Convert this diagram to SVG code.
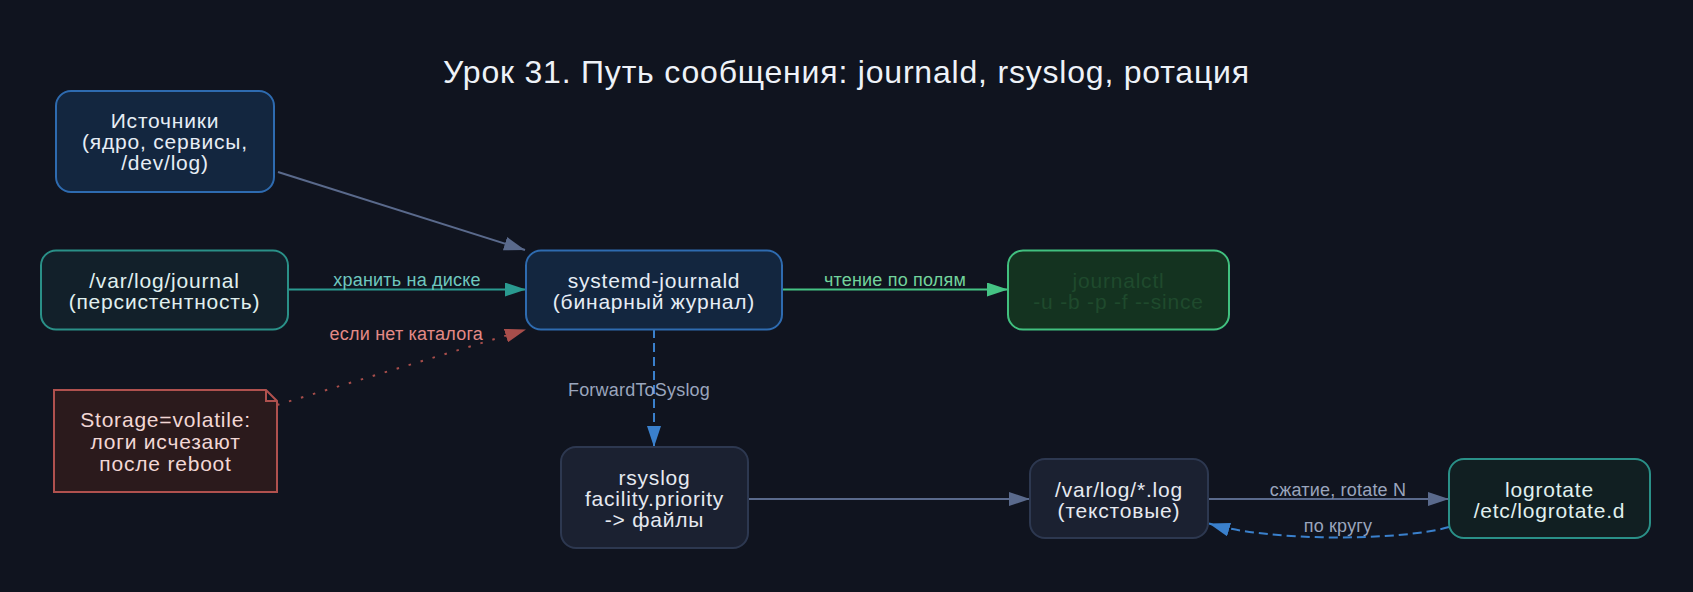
<svg xmlns="http://www.w3.org/2000/svg" width="1693" height="592" viewBox="0 0 1693 592">
<defs>
<style>
text{font-family:"Liberation Sans",Arial,sans-serif;}
.title{font-size:32px;fill:#eef2f8;text-anchor:middle;letter-spacing:0.8px;}
.nt{font-size:21px;text-anchor:middle;letter-spacing:0.8px;}
.el{font-size:18px;text-anchor:middle;letter-spacing:0.2px;}
.blue rect{fill:#13263f;stroke:#2e6bb0;stroke-width:2;}
.blue text{fill:#e6edf5;}
.teal rect{fill:#12202a;stroke:#2a9088;stroke-width:2;}
.teal text{fill:#e0f0ef;}
.green rect{fill:#143320;stroke:#41c07f;stroke-width:2;}
.green text{fill:#1f4a2d;}
.gray rect{fill:#1b2131;stroke:#2d3850;stroke-width:2;}
.gray text{fill:#e6e9f0;}
.note path{fill:#2b1a1c;stroke:#b0514e;stroke-width:2;}
.note text{fill:#f2d7d5;}
.e{fill:none;stroke-width:2;}
</style>
<marker id="aGray" markerUnits="userSpaceOnUse" markerWidth="22" markerHeight="14" refX="21" refY="7" orient="auto"><path d="M0,0 L21,7 L0,14 z" fill="#5a6a8c"/></marker>
<marker id="aTeal" markerUnits="userSpaceOnUse" markerWidth="22" markerHeight="14" refX="21" refY="7" orient="auto"><path d="M0,0 L21,7 L0,14 z" fill="#2a9a90"/></marker>
<marker id="aGreen" markerUnits="userSpaceOnUse" markerWidth="22" markerHeight="14" refX="21" refY="7" orient="auto"><path d="M0,0 L21,7 L0,14 z" fill="#45c384"/></marker>
<marker id="aBlue" markerUnits="userSpaceOnUse" markerWidth="22" markerHeight="14" refX="21" refY="7" orient="auto"><path d="M0,0 L21,7 L0,14 z" fill="#3a80cc"/></marker>
<marker id="aRed" markerUnits="userSpaceOnUse" markerWidth="22" markerHeight="14" refX="21" refY="7" orient="auto"><path d="M0,0 L21,7 L0,14 z" fill="#a84e4b"/></marker>
</defs>
<rect x="0" y="0" width="1693" height="592" fill="#10141f"/>
<text class="title" x="846.5" y="83">Урок 31. Путь сообщения: journald, rsyslog, ротация</text>

<g id="connectors">
<path class="e" d="M278,172 L525,250" stroke="#5a6a8c" marker-end="url(#aGray)"/>
<path class="e" d="M288,289.5 L526,289.5" stroke="#2a9a90" marker-end="url(#aTeal)"/>
<text class="el" x="407" y="286" fill="#6fc8bf">хранить на диске</text>
<path class="e" d="M782,289.5 L1008,289.5" stroke="#45c384" marker-end="url(#aGreen)"/>
<text class="el" x="895" y="286" fill="#72d39c">чтение по полям</text>
<path class="e" d="M654,329 L654,447" stroke="#3a80cc" stroke-dasharray="9,5" marker-end="url(#aBlue)"/>
<text class="el" x="639" y="396" fill="#9aa5bd">ForwardToSyslog</text>
<path class="e" d="M277,405 L526,329.5" stroke="#a84e4b" stroke-dasharray="2.5,10" marker-end="url(#aRed)"/>
<text class="el" x="483" y="340" fill="#e48a86" style="text-anchor:end">если нет каталога</text>
<path class="e" d="M748,499 L1030,499" stroke="#5a6a8c" marker-end="url(#aGray)"/>
<path class="e" d="M1208,499 L1449,499" stroke="#5a6a8c" marker-end="url(#aGray)"/>
<text class="el" x="1338" y="495.5" fill="#9aa5bd">сжатие, rotate N</text>
<path class="e" d="M1449,527 C1400,541 1270,542 1209,523.5" stroke="#3a80cc" stroke-dasharray="9,5" marker-end="url(#aBlue)"/>
<text class="el" x="1338" y="531.5" fill="#9aa5bd">по кругу</text>
</g>

<g id="src" class="blue">
<rect x="56" y="91" width="218" height="101" rx="15"/>
<text class="nt" x="165" y="127.5">Источники</text>
<text class="nt" x="165" y="148.5">(ядро, сервисы,</text>
<text class="nt" x="165" y="169.5">/dev/log)</text>
</g>
<g id="journal" class="teal">
<rect x="41" y="250.5" width="247" height="79" rx="15"/>
<text class="nt" x="164.5" y="288">/var/log/journal</text>
<text class="nt" x="164.5" y="309">(персистентность)</text>
</g>
<g id="journald" class="blue">
<rect x="526" y="250.5" width="256" height="79" rx="15"/>
<text class="nt" x="654" y="288">systemd-journald</text>
<text class="nt" x="654" y="309">(бинарный журнал)</text>
</g>
<g id="journalctl" class="green">
<rect x="1008" y="250.5" width="221" height="79" rx="15"/>
<text class="nt" x="1118.5" y="288">journalctl</text>
<text class="nt" x="1118.5" y="309">-u -b -p -f --since</text>
</g>
<g id="note" class="note">
<path d="M54,390 L266,390 L277,401 L277,492 L54,492 Z M266,390 L266,401 L277,401"/>
<text class="nt" x="165.5" y="427">Storage=volatile:</text>
<text class="nt" x="165.5" y="449">логи исчезают</text>
<text class="nt" x="165.5" y="471">после reboot</text>
</g>
<g id="rsyslog" class="gray">
<rect x="561" y="447" width="187" height="101" rx="15"/>
<text class="nt" x="654.5" y="485">rsyslog</text>
<text class="nt" x="654.5" y="506">facility.priority</text>
<text class="nt" x="654.5" y="527">-&gt; файлы</text>
</g>
<g id="varlog" class="gray">
<rect x="1030" y="459" width="178" height="79" rx="15"/>
<text class="nt" x="1119" y="497">/var/log/*.log</text>
<text class="nt" x="1119" y="518">(текстовые)</text>
</g>
<g id="logrotate" class="teal">
<rect x="1449" y="459" width="201" height="79" rx="15" style="fill:#111f22"/>
<text class="nt" x="1549.5" y="497">logrotate</text>
<text class="nt" x="1549.5" y="518">/etc/logrotate.d</text>
</g>
</svg>
